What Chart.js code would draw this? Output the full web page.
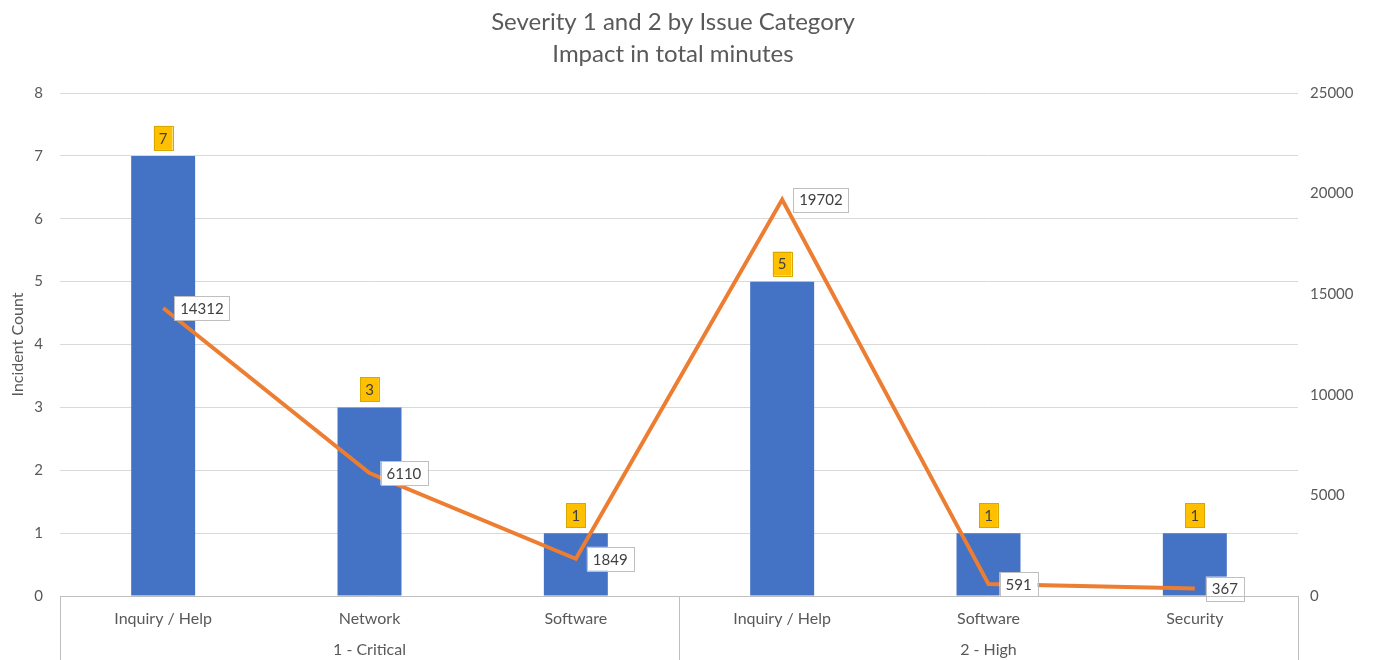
<!DOCTYPE html>
<html>
<head>
<meta charset="utf-8">
<script src="https://cdn.jsdelivr.net/npm/chart.js@4"></script>
<style>
  html, body { margin: 0; padding: 0; background: #fff; }
  #wrap { width: 1373px; height: 660px; }
</style>
</head>
<body>
<div id="wrap"><canvas id="chart"></canvas></div>
<script>
// Severity 1 and 2 incidents, count (bars) and impact minutes (line)
const categories = ['Inquiry / Help', 'Network', 'Software', 'Inquiry / Help', 'Software', 'Security'];
const groupNames = ['1 - Critical', '2 - High'];
const groupSizes = [3, 3];
const incidentCounts = [7, 3, 1, 5, 1, 1];
const impactMinutes = [14312, 6110, 1849, 19702, 591, 367];
const countTicks = [0, 1, 2, 3, 4, 5, 6, 7, 8];
const minuteTicks = [0, 5000, 10000, 15000, 20000, 25000];
const titleLines = ['Severity 1 and 2 by Issue Category', 'Impact in total minutes'];

const colors = {
    bar: '#4472C4',
    line: '#ED7D31',
    text: '#595959',
    labelText: '#404040',
    grid: '#D9D9D9',
    axis: '#BFBFBF',
    barLabelBg: '#FFC000',
    barLabelBorder: '#D9A800',
    lineLabelBorder: '#BFBFBF'
};
const FONT = 'Lato, "Open Sans", sans-serif';

// Draws title, data labels, the two-level category box and group names
const extrasPlugin = {
    id: 'extras',
    afterDatasetsDraw(chart) {
        const ctx = chart.ctx;
        ctx.save();
        ctx.font = '15px ' + FONT;
        ctx.textBaseline = 'middle';
        ctx.textAlign = 'center';

        // bar labels: gold boxes above the bars
        chart.getDatasetMeta(0).data.forEach((bar, i) => {
            const txt = String(incidentCounts[i]);
            const w = ctx.measureText(txt).width + 10;
            const h = 24;
            const bottom = bar.y - 6;
            ctx.fillStyle = colors.barLabelBg;
            ctx.fillRect(bar.x - w / 2, bottom - h, w, h);
            ctx.strokeStyle = colors.barLabelBorder;
            ctx.lineWidth = 1;
            ctx.strokeRect(Math.round(bar.x - w / 2) + 0.5, Math.round(bottom - h) + 0.5, Math.round(w), h);
            ctx.fillStyle = colors.labelText;
            ctx.fillText(txt, bar.x, bottom - h / 2 + 1);
        });

        // line labels: white boxes to the right of the points
        chart.getDatasetMeta(1).data.forEach((pt, i) => {
            const txt = String(impactMinutes[i]);
            const w = ctx.measureText(txt).width + 12;
            const h = 24;
            const left = pt.x + 11;
            const top = pt.y - h / 2;
            ctx.fillStyle = '#FFFFFF';
            ctx.fillRect(left, top, w, h);
            ctx.strokeStyle = colors.lineLabelBorder;
            ctx.lineWidth = 1;
            ctx.strokeRect(Math.round(left) + 0.5, Math.round(top) + 0.5, Math.round(w), h);
            ctx.fillStyle = colors.labelText;
            ctx.fillText(txt, left + w / 2, pt.y + 1);
        });
        ctx.restore();
    },
    afterDraw(chart) {
        const ctx = chart.ctx;
        const area = chart.chartArea;
        const bottom = chart.height;
        const step = (area.right - area.left) / categories.length;
        ctx.save();

        // title, centred over the plot area
        ctx.font = '24px ' + FONT;
        ctx.fillStyle = colors.text;
        ctx.textAlign = 'center';
        ctx.textBaseline = 'middle';
        const tx = (area.left + area.right) / 2 - 6;
        titleLines.forEach((t, i) => ctx.fillText(t, tx, 22 + i * 32));

        ctx.strokeStyle = colors.axis;
        ctx.lineWidth = 1;
        ctx.beginPath();
        ctx.moveTo(area.left, Math.round(area.bottom) + 0.5);
        ctx.lineTo(area.right, Math.round(area.bottom) + 0.5);
        // group dividers
        let idx = 0;
        const edges = [0];
        groupSizes.forEach(n => { idx += n; edges.push(idx); });
        edges.forEach(e => {
            const px = Math.round(area.left + e * step) + 0.5;
            ctx.moveTo(px, area.bottom);
            ctx.lineTo(px, bottom);
        });
        ctx.stroke();

        ctx.font = '16px ' + FONT;
        groupNames.forEach((g, i) => {
            const cx = area.left + (edges[i] + edges[i + 1]) / 2 * step;
            ctx.fillText(g, cx, area.bottom + 54);
        });
        ctx.restore();
    }
};

new Chart(document.getElementById('chart'), {
    type: 'bar',
    data: {
        labels: categories,
        datasets: [
            {
                type: 'bar',
                label: 'Incident Count',
                data: incidentCounts,
                backgroundColor: colors.bar,
                yAxisID: 'y',
                barPercentage: 0.31,
                categoryPercentage: 1,
                order: 2
            },
            {
                type: 'line',
                label: 'Impact in total minutes',
                data: impactMinutes,
                borderColor: colors.line,
                borderWidth: 4,
                pointRadius: 0,
                tension: 0,
                yAxisID: 'y1',
                order: 1
            }
        ]
    },
    options: {
        responsive: true,
        maintainAspectRatio: false,
        animation: false,
        layout: { padding: { top: 93, bottom: 0, left: 0, right: 0 } },
        plugins: {
            legend: { display: false },
            tooltip: { enabled: false },
            title: { display: false }
        },
        scales: {
            x: {
                grid: { display: false, drawTicks: false },
                border: { display: false },
                ticks: {
                    color: colors.text,
                    font: { family: FONT, size: 16 },
                    padding: 13,
                    maxRotation: 0,
                    autoSkip: false
                },
                afterFit(scale) { scale.height = 64; }
            },
            y: {
                position: 'left',
                min: 0,
                max: countTicks[countTicks.length - 1],
                afterBuildTicks(scale) { scale.ticks = countTicks.map(v => ({ value: v })); },
                grid: { color: colors.grid, drawTicks: false },
                border: { display: false },
                ticks: {
                    color: colors.text,
                    font: { family: FONT, size: 15 },
                    padding: 17
                },
                title: {
                    display: true,
                    text: 'Incident Count',
                    color: colors.text,
                    font: { family: FONT, size: 16 },
                    padding: { top: 8, bottom: 0 }
                },
                afterFit(scale) { scale.width = 60; }
            },
            y1: {
                position: 'right',
                min: 0,
                max: minuteTicks[minuteTicks.length - 1],
                afterBuildTicks(scale) { scale.ticks = minuteTicks.map(v => ({ value: v })); },
                grid: { display: false, drawTicks: false },
                border: { display: false },
                ticks: {
                    color: colors.text,
                    font: { family: FONT, size: 15 },
                    padding: 12,
                    callback: v => String(v)
                },
                afterFit(scale) { scale.width = 75; }
            }
        }
    },
    plugins: [extrasPlugin]
});
</script>
</body>
</html>
